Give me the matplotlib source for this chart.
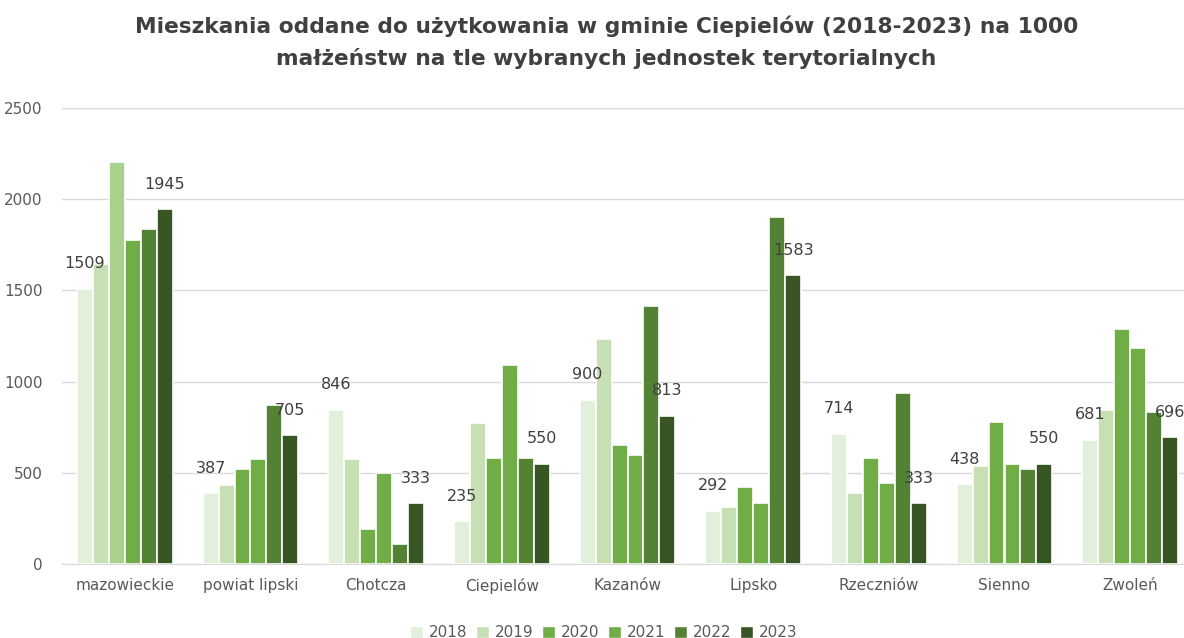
import matplotlib.pyplot as plt
from matplotlib.patches import Patch
import numpy as np

categories = ['mazowieckie', 'powiat lipski', 'Chotcza', 'Ciepielów', 'Kazanów',
              'Lipsko', 'Rzeczniów', 'Sienno', 'Zwoleń']
years = ['2018', '2019', '2020', '2021', '2022', '2023']

v2018 = [1509, 387, 846, 235, 900, 292, 714, 438, 681]
v2019 = [1645, 433, 575, 773, 1234, 312, 389, 537, 844]
v2020 = [2204, 521, 192, 581, 652, 423, 581, 779, 1288]
v2021 = [1776, 575, 499, 1090, 598, 334, 444, 548, 1184]
v2022 = [1837, 872, 110, 581, 1414, 1902, 937, 521, 833]
v2023 = [1945, 705, 333, 550, 813, 1583, 333, 550, 696]
series = [v2018, v2019, v2020, v2021, v2022, v2023]
labelled = ['2018', '2023']

colors = ['#E2EFDA', '#C6E0B4', '#70AD47', '#70AD47', '#548235', '#375623']

fig = plt.figure(figsize=(11.84, 6.38), dpi=100)
ax = fig.add_axes([62 / 1184, 0.116, 1131 / 1184, 0.7147])

x = np.arange(len(categories))
slot = 0.127
for i, (yr, vals) in enumerate(zip(years, series)):
    pos = x + (i - 2.5) * slot
    bars = ax.bar(pos, vals, width=slot, color=colors[i], edgecolor='white',
                  linewidth=1.2, zorder=2)
    if yr == '2020':
        # mazowieckie 2020 bar is coloured lighter in the original
        bars[0].set_facecolor('#A9D18E')
    if yr in labelled:
        for px, v in zip(pos, vals):
            ax.annotate(str(v), (px, v), xytext=(0, 18), textcoords='offset points',
                        ha='center', va='center', fontsize=11.5, color='#404040')

ax.set_xlim(-0.5, len(categories) - 0.5)
ax.set_ylim(0, 2500)
ax.set_yticks(range(0, 2501, 500))
ax.set_xticks(x)
ax.set_xticklabels(categories)
ax.tick_params(axis='both', length=0, labelsize=11, colors='#595959')
ax.tick_params(axis='x', pad=10)
ax.tick_params(axis='y', pad=14)
ax.grid(axis='y', color='#D9D9D9', linewidth=1, zorder=0)
for s in ['top', 'right', 'left']:
    ax.spines[s].set_visible(False)
ax.spines['bottom'].set_color('#D9D9D9')

fig.suptitle('Mieszkania oddane do użytkowania w gminie Ciepielów (2018-2023) na 1000\n'
             'małżeństw na tle wybranych jednostek terytorialnych',
             x=0.512, y=0.975, fontsize=15.7, fontweight='bold', color='#404040',
             linespacing=1.6)

handles = [Patch(facecolor=c, edgecolor='white') for c in colors]
fig.legend(handles, years, loc='lower center', bbox_to_anchor=(0.51, -0.025), ncol=6,
           frameon=False, fontsize=11, handlelength=0.8, handleheight=0.8,
           handletextpad=0.4, columnspacing=0.6, labelcolor='#595959')

fig.savefig('out.png', dpi=100)
